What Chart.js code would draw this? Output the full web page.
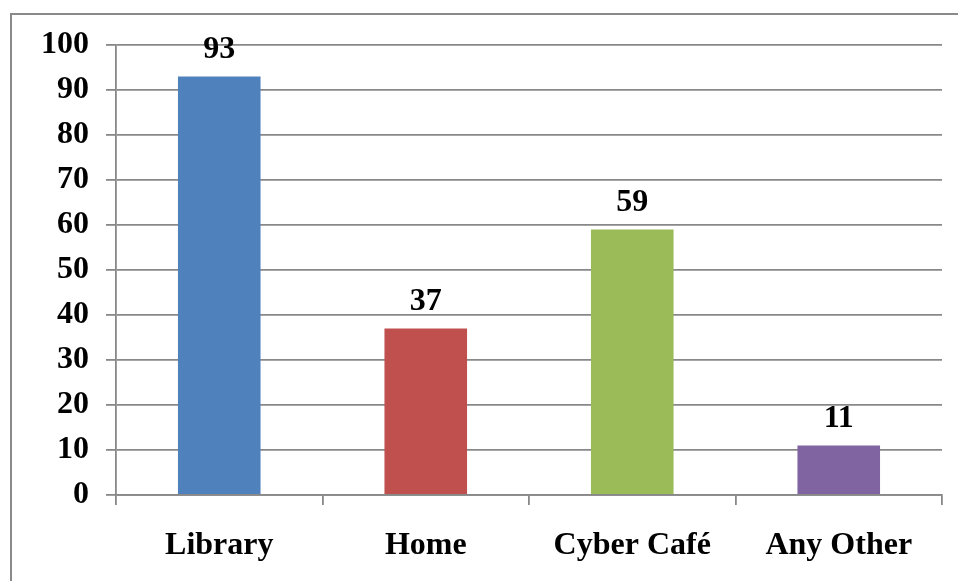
<!DOCTYPE html>
<html>
<head>
<meta charset="utf-8">
<script src="https://cdn.jsdelivr.net/npm/chart.js@4/dist/chart.umd.min.js"></script>
<style>
  html, body { margin: 0; padding: 0; background: #fff; overflow: hidden; width: 958px; height: 581px; }
  #frame {
    position: absolute; left: 10px; top: 13px; width: 1000px; height: 700px;
    border-left: 2px solid #8a8a8a; border-top: 2px solid #8a8a8a;
  }
  #wrap { position: absolute; left: 0; top: 0; width: 958px; height: 581px; }
  #c { display: block; }
</style>
</head>
<body>
<div id="frame"></div>
<div id="wrap"><canvas id="c" width="958" height="581"></canvas></div>
<script>
// Where respondents access the internet
const categories = ['Library', 'Home', 'Cyber Café', 'Any Other'];
const counts = [93, 37, 59, 11];
const barColors = ['#4F81BD', '#C0504D', '#9BBB59', '#8064A2'];
const yTickValues = [0, 10, 20, 30, 40, 50, 60, 70, 80, 90, 100];

const FONT_FAMILY = "'Liberation Serif', 'Times New Roman', serif";
const LINE = '#888888';

// Value labels above each bar
const valueLabels = {
  id: 'valueLabels',
  afterDatasetsDraw(chart) {
    const ctx = chart.ctx;
    const meta = chart.getDatasetMeta(0);
    const data = chart.data.datasets[0].data;
    ctx.save();
    ctx.font = 'bold 32px ' + FONT_FAMILY;
    ctx.fillStyle = '#000';
    ctx.textAlign = 'center';
    ctx.textBaseline = 'alphabetic';
    meta.data.forEach((bar, i) => {
      ctx.fillText(String(data[i]), bar.x, bar.y - 19);
    });
    ctx.restore();
  }
};

new Chart(document.getElementById('c'), {
  type: 'bar',
  data: {
    labels: categories,
    datasets: [{
      data: counts,
      backgroundColor: barColors,
      borderWidth: 0,
      categoryPercentage: 1.0,
      barPercentage: 0.4
    }]
  },
  options: {
    responsive: false,
    animation: false,
    devicePixelRatio: 1,
    layout: { padding: { top: 45, right: 16, bottom: 0, left: 0 } },
    plugins: {
      legend: { display: false },
      title: { display: false },
      tooltip: { enabled: false }
    },
    scales: {
      x: {
        afterFit(scale) { scale.height = 86; },
        grid: {
          offset: true,
          drawOnChartArea: false,
          drawTicks: true,
          tickLength: 10,
          color: LINE,
          lineWidth: 1.8
        },
        border: { display: true, color: LINE, width: 1.8 },
        ticks: {
          padding: 22,
          color: '#000',
          font: { family: FONT_FAMILY, size: 32, weight: 'bold' },
          maxRotation: 0
        }
      },
      y: {
        min: 0,
        max: 100,
        afterFit(scale) { scale.width = 116; },
        afterBuildTicks(scale) { scale.ticks = yTickValues.map(v => ({ value: v })); },
        grid: {
          color: LINE,
          lineWidth: 1.8,
          tickLength: 10
        },
        border: { display: true, color: LINE, width: 1.8 },
        ticks: {
          padding: 17,
          color: '#000',
          font: { family: FONT_FAMILY, size: 32, weight: 'bold' }
        }
      }
    }
  },
  plugins: [valueLabels]
});
</script>
</body>
</html>
